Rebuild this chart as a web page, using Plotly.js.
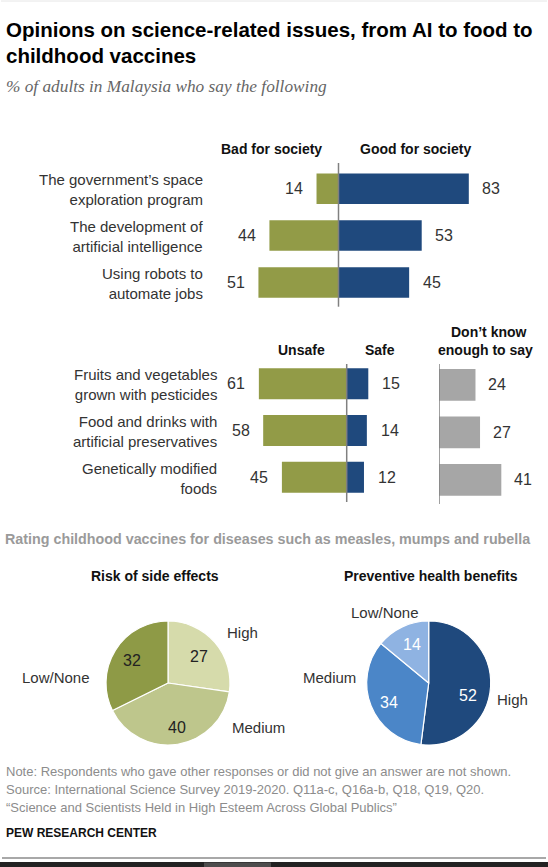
<!DOCTYPE html>
<html><head><meta charset="utf-8">
<script src="https://cdn.plot.ly/plotly-3.0.1.min.js"></script>
<style>html,body{margin:0;padding:0;background:#fff;} #chart{width:548px;height:867px;}</style>
</head><body><div id="chart"></div>
<script>
// ---------- data ----------
const societyItems = ["The government’s space<br>exploration program", "The development of<br>artificial intelligence", "Using robots to<br>automate jobs"];
const badForSociety = [14, 44, 51];
const goodForSociety = [83, 53, 45];

const foodItems = ["Fruits and vegetables<br>grown with pesticides", "Food and drinks with<br>artificial preservatives", "Genetically modified<br>foods"];
const unsafe = [61, 58, 45];
const safe = [15, 14, 12];
const dontKnow = [24, 27, 41];

const pieLabels = ["High", "Medium", "Low/None"];
const sideEffectRisk = [27, 40, 32];
const healthBenefits = [52, 34, 14];

// ---------- helpers ----------
const W = 548, H = 867;
const px = x => x / W;
const py = y => 1 - y / H;
const FONT = "Liberation Sans, Arial, sans-serif";
const OLIVE = "#929b47", NAVY = "#1f497d", GREY = "#a6a6a6";
const TXT = "#333333";

function ann(text, x, y, o) {
  return Object.assign({text: text, x: px(x), y: py(y), xref: "paper", yref: "paper",
    showarrow: false, xanchor: "center", yanchor: "middle",
    font: {family: FONT, size: 14, color: TXT}}, o || {});
}

const idx = [0, 1, 2];
const traces = [];
const annotations = [];

// section 1
traces.push({type: "bar", orientation: "h", y: idx, x: badForSociety.map(v => -v), xaxis: "x", yaxis: "y",
  width: 0.65, marker: {color: OLIVE}, hoverinfo: "none"});
traces.push({type: "bar", orientation: "h", y: idx, x: goodForSociety, xaxis: "x", yaxis: "y",
  width: 0.65, marker: {color: NAVY}, hoverinfo: "none"});
// section 2
traces.push({type: "bar", orientation: "h", y: idx, x: unsafe.map(v => -v), xaxis: "x2", yaxis: "y2",
  width: 0.664, marker: {color: OLIVE}, hoverinfo: "none"});
traces.push({type: "bar", orientation: "h", y: idx, x: safe, xaxis: "x2", yaxis: "y2",
  width: 0.664, marker: {color: NAVY}, hoverinfo: "none"});
traces.push({type: "bar", orientation: "h", y: idx, x: dontKnow, xaxis: "x3", yaxis: "y3",
  width: 0.667, marker: {color: GREY}, hoverinfo: "none"});

// pies
traces.push({type: "pie", values: sideEffectRisk, labels: pieLabels, sort: false, direction: "clockwise", rotation: 0,
  domain: {x: [px(168 - 62), px(168 + 62)], y: [py(683 + 62), py(683 - 62)]},
  marker: {colors: ["#d6dbab", "#bec68c", "#8e9a46"], line: {color: "#ffffff", width: 1.2}},
  textinfo: "none", hoverinfo: "none", showlegend: false});
traces.push({type: "pie", values: healthBenefits, labels: pieLabels, sort: false, direction: "clockwise", rotation: 0,
  domain: {x: [px(428.7 - 62), px(428.7 + 62)], y: [py(683 + 62), py(683 - 62)]},
  marker: {colors: ["#1f497d", "#4b86c8", "#8fb3e2"], line: {color: "#ffffff", width: 1.2}},
  textinfo: "none", hoverinfo: "none", showlegend: false});

// value labels
const VAL = {family: FONT, size: 16, color: TXT};
const ROW = {family: FONT, size: 15, color: TXT};
idx.forEach(i => {
  annotations.push({text: String(badForSociety[i]), x: -badForSociety[i], y: i, xref: "x", yref: "y", showarrow: false, xanchor: "right", yanchor: "middle", xshift: -11.5, font: VAL});
  annotations.push({text: String(goodForSociety[i]), x: goodForSociety[i], y: i, xref: "x", yref: "y", showarrow: false, xanchor: "left", yanchor: "middle", xshift: 11.5, font: VAL});
  annotations.push({text: String(unsafe[i]), x: -unsafe[i], y: i, xref: "x2", yref: "y2", showarrow: false, xanchor: "right", yanchor: "middle", xshift: -11.5, font: VAL});
  annotations.push({text: String(safe[i]), x: safe[i], y: i, xref: "x2", yref: "y2", showarrow: false, xanchor: "left", yanchor: "middle", xshift: 12, font: VAL});
  annotations.push({text: String(dontKnow[i]), x: dontKnow[i], y: i, xref: "x3", yref: "y3", showarrow: false, xanchor: "left", yanchor: "middle", xshift: 10.5, font: VAL});
  annotations.push({text: societyItems[i], x: px(204.5), y: i, xref: "paper", yref: "y", showarrow: false, xanchor: "right", yanchor: "middle", align: "right", yshift: -1, font: ROW});
  annotations.push({text: foodItems[i], x: px(218.5), y: i, xref: "paper", yref: "y2", showarrow: false, xanchor: "right", yanchor: "middle", align: "right", yshift: -1, font: ROW});
});

// titles & headers
annotations.push(ann("<b>Opinions on science-related issues, from AI to food to</b>", 3.5, 29, {xanchor: "left", font: {family: FONT, size: 20.5, color: "#000"}}));
annotations.push(ann("<b>childhood vaccines</b>", 3.5, 55, {xanchor: "left", font: {family: FONT, size: 20.5, color: "#000"}}));
annotations.push(ann("<i>% of adults in Malaysia who say the following</i>", 3.5, 87, {xanchor: "left", font: {family: "Liberation Serif, Times New Roman, serif", size: 17.3, color: "#666"}}));

const HDR = {family: FONT, size: 14, color: "#111"};
annotations.push(ann("<b>Bad for society</b>", 271, 149, {font: HDR}));
annotations.push(ann("<b>Good for society</b>", 415, 149, {font: HDR}));
annotations.push(ann("<b>Unsafe</b>", 301.5, 350, {font: HDR}));
annotations.push(ann("<b>Safe</b>", 380, 350, {font: HDR}));
annotations.push(ann("<b>Don’t know</b>", 489, 332, {font: HDR}));
annotations.push(ann("<b>enough to say</b>", 485, 350, {font: HDR}));

annotations.push(ann("<b>Rating childhood vaccines for diseases such as measles, mumps and rubella</b>", 3, 539, {xanchor: "left", font: {family: FONT, size: 14.3, color: "#9a9a9a"}}));
annotations.push(ann("<b>Risk of side effects</b>", 155, 576, {font: HDR}));
annotations.push(ann("<b>Preventive health benefits</b>", 431, 576, {font: HDR}));

// pie outside labels and inside values
const PL = {family: FONT, size: 15, color: TXT};
const leftPiePos = [[242.5, 632], [258.3, 727], [55.8, 677]];
const rightPiePos = [[512, 699], [329, 677], [385, 612]];
const leftValPos = [[199, 656], [177, 727], [132, 660]];
const rightValPos = [[468, 695], [389, 702], [411.5, 644]];
pieLabels.forEach((l, i) => {
  annotations.push(ann(l, leftPiePos[i][0], leftPiePos[i][1], {font: PL}));
  annotations.push(ann(l, rightPiePos[i][0], rightPiePos[i][1], {font: PL}));
  annotations.push(ann(String(sideEffectRisk[i]), leftValPos[i][0], leftValPos[i][1], {font: {family: FONT, size: 16, color: "#222"}}));
  annotations.push(ann(String(healthBenefits[i]), rightValPos[i][0], rightValPos[i][1], {font: {family: FONT, size: 16, color: "#fff"}}));
});

// footer
const FT = {family: FONT, size: 13, color: "#8c8c8c"};
annotations.push(ann("Note: Respondents who gave other responses or did not give an answer are not shown.", 3.5, 771, {xanchor: "left", font: FT}));
annotations.push(ann("Source: International Science Survey 2019-2020. Q11a-c, Q16a-b, Q18, Q19, Q20.", 3.5, 789, {xanchor: "left", font: FT}));
annotations.push(ann("“Science and Scientists Held in High Esteem Across Global Publics”", 3.5, 807, {xanchor: "left", font: FT}));
annotations.push(ann("<b>PEW RESEARCH CENTER</b>", 3.5, 833, {xanchor: "left", font: {family: FONT, size: 12, color: "#111"}}));

const shapes = [
  {type: "line", xref: "x", yref: "paper", x0: 0, x1: 0, y0: py(306.7), y1: py(163), line: {color: "#808080", width: 1.5}},
  {type: "line", xref: "x2", yref: "paper", x0: 0, x1: 0, y0: py(502), y1: py(364), line: {color: "#808080", width: 1.5}},
  {type: "line", xref: "x3", yref: "paper", x0: 0, x1: 0, y0: py(504), y1: py(364), line: {color: "#808080", width: 1.5}},
  {type: "line", xref: "paper", yref: "paper", x0: px(1), x1: px(547), y0: py(1), y1: py(1), line: {color: "#e6e6e6", width: 1}},
  {type: "line", xref: "paper", yref: "paper", x0: px(2), x1: px(546), y0: py(858), y1: py(858), line: {color: "#a8a8a8", width: 2}},
  {type: "rect", xref: "paper", yref: "paper", x0: 0, x1: 1, y0: 0, y1: py(862), line: {width: 0}, fillcolor: "#222222"},
  {type: "rect", xref: "paper", yref: "paper", x0: px(204), x1: px(271), y0: 0, y1: py(862.5), line: {width: 0}, fillcolor: "#4d4d4d"}
];

const hidden = {visible: false, showgrid: false, zeroline: false, fixedrange: true};
const s1 = 1.57, c1 = 338.5, s2 = 1.44, c2 = 346.7, s3 = 1.52, c3 = 439;
const layout = {
  width: W, height: H, margin: {l: 0, r: 0, t: 0, b: 0}, paper_bgcolor: "#fff", plot_bgcolor: "rgba(0,0,0,0)",
  showlegend: false, barmode: "overlay", font: {family: FONT},
  xaxis: Object.assign({domain: [px(230), px(490)], range: [-(c1 - 230) / s1, (490 - c1) / s1], anchor: "y"}, hidden),
  yaxis: Object.assign({domain: [py(306), py(165.2)], range: [2.5, -0.5], anchor: "x"}, hidden),
  xaxis2: Object.assign({domain: [px(240), px(400)], range: [-(c2 - 240) / s2, (400 - c2) / s2], anchor: "y2"}, hidden),
  yaxis2: Object.assign({domain: [py(500.55), py(360.45)], range: [2.5, -0.5], anchor: "x2"}, hidden),
  xaxis3: Object.assign({domain: [px(c3), px(530)], range: [0, (530 - c3) / s3], anchor: "y3"}, hidden),
  yaxis3: Object.assign({domain: [py(503.65), py(361.15)], range: [2.5, -0.5], anchor: "x3"}, hidden),
  annotations: annotations, shapes: shapes
};
Plotly.newPlot("chart", traces, layout, {staticPlot: true, displayModeBar: false});
</script></body></html>
